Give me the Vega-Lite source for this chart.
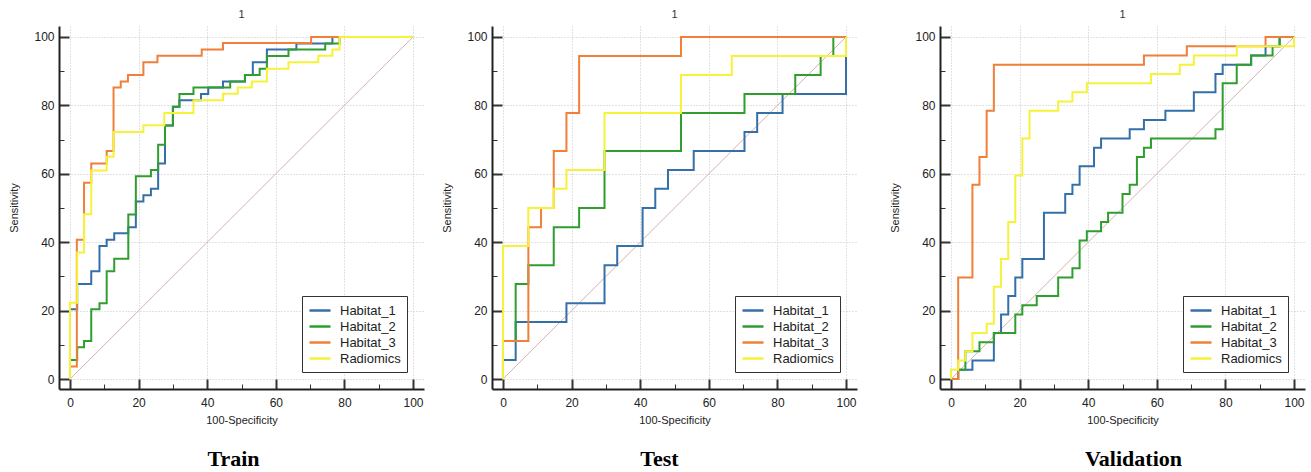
{
  "$schema": "https://vega.github.io/schema/vega-lite/v6.json",
  "background": "white",
  "padding": {"left": 8, "top": 9, "right": 1, "bottom": 2},
  "config": {
    "view": {"stroke": null},
    "font": "Liberation Sans",
    "title": {"font": "Liberation Sans", "fontSize": 11, "fontWeight": "normal", "color": "#333", "offset": 6},
    "axis": {
      "values": [0,5,10,15,20,25,30,35,40,45,50,55,60,65,70,75,80,85,90,95,100],
      "labelExpr": "datum.value % 20 === 0 ? datum.label : ''",
      "domainColor": "#222",
      "domainWidth": 2,
      "tickColor": "#333",
      "tickSize": {"condition": {"test": "datum.value % 20 === 0", "value": -10}, "value": -5},
      "tickWidth": {"condition": {"test": "datum.value % 20 === 0", "value": 2}, "value": 1},
      "grid": true,
      "gridColor": "#c4c4c4",
      "gridDash": [1, 2],
      "gridWidth": 1,
      "gridOpacity": {"condition": {"test": "datum.value % 20 === 0", "value": 1}, "value": 0},
      "labelFont": "Liberation Sans",
      "labelFontSize": 12,
      "labelColor": "#222",
      "labelPadding": 15,
      "titleFont": "Liberation Sans",
      "titleFontSize": 11,
      "titleFontWeight": "normal",
      "titleColor": "#222"
    },
    "axisY": {"titlePadding": 14},
    "axisX": {"titlePadding": 6, "labelPadding": 18},
    "legend": {
      "orient": "bottom-right",
      "offset": 17,
      "title": null,
      "symbolType": "M-1,0H2",
      "symbolSize": 196,
      "symbolStrokeWidth": 2.5,
      "labelFont": "Liberation Sans",
      "labelFontSize": 13,
      "labelColor": "#222",
      "labelOffset": 15,
      "strokeColor": "#333",
      "fillColor": "white",
      "padding": 6,
      "rowPadding": -4
    }
  },
  "datasets": {
    "diag": [{"x": 0, "y": 0, "x2": 100, "y2": 100}],
    "train": [
      {"m": "Habitat_1", "i": 0, "x": 0, "y": 0}, {"m": "Habitat_1", "i": 1, "x": 0, "y": 20.4}, {"m": "Habitat_1", "i": 2, "x": 2.1, "y": 27.8}, {"m": "Habitat_1", "i": 3, "x": 6.2, "y": 31.5}, {"m": "Habitat_1", "i": 4, "x": 8.6, "y": 38.9}, {"m": "Habitat_1", "i": 5, "x": 10.7, "y": 40.7}, {"m": "Habitat_1", "i": 6, "x": 12.9, "y": 42.6}, {"m": "Habitat_1", "i": 7, "x": 17, "y": 44.4}, {"m": "Habitat_1", "i": 8, "x": 19.2, "y": 51.9}, {"m": "Habitat_1", "i": 9, "x": 21.4, "y": 53.7}, {"m": "Habitat_1", "i": 10, "x": 23.6, "y": 55.6}, {"m": "Habitat_1", "i": 11, "x": 25.7, "y": 63}, {"m": "Habitat_1", "i": 12, "x": 27.7, "y": 74.1}, {"m": "Habitat_1", "i": 13, "x": 30, "y": 79.6}, {"m": "Habitat_1", "i": 14, "x": 31.9, "y": 81.5}, {"m": "Habitat_1", "i": 15, "x": 38.2, "y": 83.3}, {"m": "Habitat_1", "i": 16, "x": 40.3, "y": 85.2}, {"m": "Habitat_1", "i": 17, "x": 44.6, "y": 87}, {"m": "Habitat_1", "i": 18, "x": 51, "y": 88.9}, {"m": "Habitat_1", "i": 19, "x": 53.3, "y": 92.6}, {"m": "Habitat_1", "i": 20, "x": 57.4, "y": 96.3}, {"m": "Habitat_1", "i": 21, "x": 66, "y": 98.1}, {"m": "Habitat_1", "i": 22, "x": 76.5, "y": 100}, {"m": "Habitat_1", "i": 23, "x": 100, "y": 100},
      {"m": "Habitat_2", "i": 0, "x": 0, "y": 0}, {"m": "Habitat_2", "i": 1, "x": 0, "y": 5.6}, {"m": "Habitat_2", "i": 2, "x": 2.1, "y": 9.3}, {"m": "Habitat_2", "i": 3, "x": 4.1, "y": 11.1}, {"m": "Habitat_2", "i": 4, "x": 6.2, "y": 20.4}, {"m": "Habitat_2", "i": 5, "x": 8.6, "y": 22.2}, {"m": "Habitat_2", "i": 6, "x": 10.7, "y": 31.5}, {"m": "Habitat_2", "i": 7, "x": 12.9, "y": 35.2}, {"m": "Habitat_2", "i": 8, "x": 17, "y": 48.1}, {"m": "Habitat_2", "i": 9, "x": 19.2, "y": 59.3}, {"m": "Habitat_2", "i": 10, "x": 23.6, "y": 61.1}, {"m": "Habitat_2", "i": 11, "x": 25.7, "y": 68.5}, {"m": "Habitat_2", "i": 12, "x": 27.7, "y": 74.1}, {"m": "Habitat_2", "i": 13, "x": 30, "y": 79.6}, {"m": "Habitat_2", "i": 14, "x": 31.9, "y": 83.3}, {"m": "Habitat_2", "i": 15, "x": 36, "y": 85.2}, {"m": "Habitat_2", "i": 16, "x": 46.7, "y": 87}, {"m": "Habitat_2", "i": 17, "x": 51, "y": 88.9}, {"m": "Habitat_2", "i": 18, "x": 55.3, "y": 90.7}, {"m": "Habitat_2", "i": 19, "x": 57.4, "y": 94.4}, {"m": "Habitat_2", "i": 20, "x": 63.7, "y": 96.3}, {"m": "Habitat_2", "i": 21, "x": 74.4, "y": 98.1}, {"m": "Habitat_2", "i": 22, "x": 78.6, "y": 100}, {"m": "Habitat_2", "i": 23, "x": 100, "y": 100},
      {"m": "Habitat_3", "i": 0, "x": 0, "y": 0}, {"m": "Habitat_3", "i": 1, "x": 0, "y": 3.7}, {"m": "Habitat_3", "i": 2, "x": 2, "y": 40.7}, {"m": "Habitat_3", "i": 3, "x": 4.1, "y": 57.4}, {"m": "Habitat_3", "i": 4, "x": 6.2, "y": 63}, {"m": "Habitat_3", "i": 5, "x": 10.7, "y": 66.7}, {"m": "Habitat_3", "i": 6, "x": 12.7, "y": 85.2}, {"m": "Habitat_3", "i": 7, "x": 14.8, "y": 87}, {"m": "Habitat_3", "i": 8, "x": 16.9, "y": 88.9}, {"m": "Habitat_3", "i": 9, "x": 21.4, "y": 92.6}, {"m": "Habitat_3", "i": 10, "x": 25.5, "y": 94.5}, {"m": "Habitat_3", "i": 11, "x": 38.4, "y": 96.3}, {"m": "Habitat_3", "i": 12, "x": 44.6, "y": 98.2}, {"m": "Habitat_3", "i": 13, "x": 70.3, "y": 100}, {"m": "Habitat_3", "i": 14, "x": 100, "y": 100},
      {"m": "Radiomics", "i": 0, "x": 0, "y": 0}, {"m": "Radiomics", "i": 1, "x": 0, "y": 22.3}, {"m": "Radiomics", "i": 2, "x": 2.1, "y": 37}, {"m": "Radiomics", "i": 3, "x": 4.1, "y": 48.2}, {"m": "Radiomics", "i": 4, "x": 6.2, "y": 61}, {"m": "Radiomics", "i": 5, "x": 10.7, "y": 65}, {"m": "Radiomics", "i": 6, "x": 12.7, "y": 72.2}, {"m": "Radiomics", "i": 7, "x": 21.4, "y": 74.2}, {"m": "Radiomics", "i": 8, "x": 27.5, "y": 77.8}, {"m": "Radiomics", "i": 9, "x": 36, "y": 81.5}, {"m": "Radiomics", "i": 10, "x": 44.6, "y": 83.4}, {"m": "Radiomics", "i": 11, "x": 48.9, "y": 85.2}, {"m": "Radiomics", "i": 12, "x": 53, "y": 87}, {"m": "Radiomics", "i": 13, "x": 57.4, "y": 90.7}, {"m": "Radiomics", "i": 14, "x": 63.7, "y": 92.6}, {"m": "Radiomics", "i": 15, "x": 72.4, "y": 94.5}, {"m": "Radiomics", "i": 16, "x": 76.5, "y": 96.3}, {"m": "Radiomics", "i": 17, "x": 78.6, "y": 100}, {"m": "Radiomics", "i": 18, "x": 100, "y": 100}
    ],
    "test": [
      {"m": "Habitat_1", "i": 0, "x": 0, "y": 0}, {"m": "Habitat_1", "i": 1, "x": 0, "y": 5.6}, {"m": "Habitat_1", "i": 2, "x": 3.7, "y": 16.7}, {"m": "Habitat_1", "i": 3, "x": 18.5, "y": 22.2}, {"m": "Habitat_1", "i": 4, "x": 29.6, "y": 33.3}, {"m": "Habitat_1", "i": 5, "x": 33.3, "y": 38.9}, {"m": "Habitat_1", "i": 6, "x": 40.7, "y": 50}, {"m": "Habitat_1", "i": 7, "x": 44.4, "y": 55.6}, {"m": "Habitat_1", "i": 8, "x": 48.1, "y": 61.1}, {"m": "Habitat_1", "i": 9, "x": 55.6, "y": 66.7}, {"m": "Habitat_1", "i": 10, "x": 70.4, "y": 72.2}, {"m": "Habitat_1", "i": 11, "x": 74.1, "y": 77.8}, {"m": "Habitat_1", "i": 12, "x": 81.5, "y": 83.3}, {"m": "Habitat_1", "i": 13, "x": 100, "y": 94.4}, {"m": "Habitat_1", "i": 14, "x": 100, "y": 100},
      {"m": "Habitat_2", "i": 0, "x": 0, "y": 0}, {"m": "Habitat_2", "i": 1, "x": 0, "y": 11.1}, {"m": "Habitat_2", "i": 2, "x": 3.7, "y": 27.8}, {"m": "Habitat_2", "i": 3, "x": 7.4, "y": 33.3}, {"m": "Habitat_2", "i": 4, "x": 14.8, "y": 44.4}, {"m": "Habitat_2", "i": 5, "x": 22.2, "y": 50}, {"m": "Habitat_2", "i": 6, "x": 29.6, "y": 66.7}, {"m": "Habitat_2", "i": 7, "x": 51.9, "y": 77.8}, {"m": "Habitat_2", "i": 8, "x": 70.4, "y": 83.3}, {"m": "Habitat_2", "i": 9, "x": 85.2, "y": 88.9}, {"m": "Habitat_2", "i": 10, "x": 92.6, "y": 94.4}, {"m": "Habitat_2", "i": 11, "x": 96.3, "y": 100}, {"m": "Habitat_2", "i": 12, "x": 100, "y": 100},
      {"m": "Habitat_3", "i": 0, "x": 0, "y": 0}, {"m": "Habitat_3", "i": 1, "x": 0, "y": 11.1}, {"m": "Habitat_3", "i": 2, "x": 7.4, "y": 44.4}, {"m": "Habitat_3", "i": 3, "x": 11.1, "y": 50}, {"m": "Habitat_3", "i": 4, "x": 14.8, "y": 66.7}, {"m": "Habitat_3", "i": 5, "x": 18.5, "y": 77.8}, {"m": "Habitat_3", "i": 6, "x": 22.2, "y": 94.4}, {"m": "Habitat_3", "i": 7, "x": 51.9, "y": 100}, {"m": "Habitat_3", "i": 8, "x": 100, "y": 100},
      {"m": "Radiomics", "i": 0, "x": 0, "y": 0}, {"m": "Radiomics", "i": 1, "x": 0, "y": 38.9}, {"m": "Radiomics", "i": 2, "x": 7.4, "y": 50}, {"m": "Radiomics", "i": 3, "x": 14.8, "y": 55.6}, {"m": "Radiomics", "i": 4, "x": 18.5, "y": 61.1}, {"m": "Radiomics", "i": 5, "x": 29.6, "y": 77.8}, {"m": "Radiomics", "i": 6, "x": 51.9, "y": 88.9}, {"m": "Radiomics", "i": 7, "x": 66.7, "y": 94.4}, {"m": "Radiomics", "i": 8, "x": 100, "y": 100}
    ],
    "val": [
      {"m": "Habitat_1", "i": 0, "x": 0, "y": 0}, {"m": "Habitat_1", "i": 1, "x": 2.1, "y": 2.7}, {"m": "Habitat_1", "i": 2, "x": 6.25, "y": 5.4}, {"m": "Habitat_1", "i": 3, "x": 12.5, "y": 13.5}, {"m": "Habitat_1", "i": 4, "x": 14.6, "y": 18.9}, {"m": "Habitat_1", "i": 5, "x": 16.7, "y": 24.3}, {"m": "Habitat_1", "i": 6, "x": 18.75, "y": 29.7}, {"m": "Habitat_1", "i": 7, "x": 20.8, "y": 35.1}, {"m": "Habitat_1", "i": 8, "x": 27.1, "y": 48.6}, {"m": "Habitat_1", "i": 9, "x": 33.3, "y": 54.1}, {"m": "Habitat_1", "i": 10, "x": 35.4, "y": 56.8}, {"m": "Habitat_1", "i": 11, "x": 37.5, "y": 62.2}, {"m": "Habitat_1", "i": 12, "x": 41.7, "y": 67.6}, {"m": "Habitat_1", "i": 13, "x": 43.75, "y": 70.3}, {"m": "Habitat_1", "i": 14, "x": 52.1, "y": 73}, {"m": "Habitat_1", "i": 15, "x": 56.25, "y": 75.7}, {"m": "Habitat_1", "i": 16, "x": 62.5, "y": 78.4}, {"m": "Habitat_1", "i": 17, "x": 70.8, "y": 83.8}, {"m": "Habitat_1", "i": 18, "x": 77.1, "y": 89.2}, {"m": "Habitat_1", "i": 19, "x": 79.2, "y": 91.9}, {"m": "Habitat_1", "i": 20, "x": 87.5, "y": 94.6}, {"m": "Habitat_1", "i": 21, "x": 91.7, "y": 97.3}, {"m": "Habitat_1", "i": 22, "x": 95.8, "y": 100}, {"m": "Habitat_1", "i": 23, "x": 100, "y": 100},
      {"m": "Habitat_2", "i": 0, "x": 0, "y": 0}, {"m": "Habitat_2", "i": 1, "x": 2.1, "y": 2.7}, {"m": "Habitat_2", "i": 2, "x": 4.2, "y": 8.1}, {"m": "Habitat_2", "i": 3, "x": 8.3, "y": 10.8}, {"m": "Habitat_2", "i": 4, "x": 12.5, "y": 13.5}, {"m": "Habitat_2", "i": 5, "x": 18.75, "y": 18.9}, {"m": "Habitat_2", "i": 6, "x": 20.8, "y": 21.6}, {"m": "Habitat_2", "i": 7, "x": 25, "y": 24.3}, {"m": "Habitat_2", "i": 8, "x": 31.25, "y": 29.7}, {"m": "Habitat_2", "i": 9, "x": 35.4, "y": 32.4}, {"m": "Habitat_2", "i": 10, "x": 37.5, "y": 40.5}, {"m": "Habitat_2", "i": 11, "x": 39.6, "y": 43.2}, {"m": "Habitat_2", "i": 12, "x": 43.75, "y": 45.9}, {"m": "Habitat_2", "i": 13, "x": 45.8, "y": 48.6}, {"m": "Habitat_2", "i": 14, "x": 50, "y": 54.1}, {"m": "Habitat_2", "i": 15, "x": 52.1, "y": 56.8}, {"m": "Habitat_2", "i": 16, "x": 54.2, "y": 64.9}, {"m": "Habitat_2", "i": 17, "x": 56.25, "y": 67.6}, {"m": "Habitat_2", "i": 18, "x": 58.3, "y": 70.3}, {"m": "Habitat_2", "i": 19, "x": 77.1, "y": 73}, {"m": "Habitat_2", "i": 20, "x": 79.2, "y": 86.5}, {"m": "Habitat_2", "i": 21, "x": 83.3, "y": 91.9}, {"m": "Habitat_2", "i": 22, "x": 87.5, "y": 94.6}, {"m": "Habitat_2", "i": 23, "x": 93.75, "y": 97.3}, {"m": "Habitat_2", "i": 24, "x": 95.8, "y": 100}, {"m": "Habitat_2", "i": 25, "x": 100, "y": 100},
      {"m": "Habitat_3", "i": 0, "x": 0, "y": 0}, {"m": "Habitat_3", "i": 1, "x": 2.1, "y": 29.7}, {"m": "Habitat_3", "i": 2, "x": 6.25, "y": 56.8}, {"m": "Habitat_3", "i": 3, "x": 8.3, "y": 64.9}, {"m": "Habitat_3", "i": 4, "x": 10.4, "y": 78.4}, {"m": "Habitat_3", "i": 5, "x": 12.5, "y": 91.9}, {"m": "Habitat_3", "i": 6, "x": 56.25, "y": 94.6}, {"m": "Habitat_3", "i": 7, "x": 68.75, "y": 97.3}, {"m": "Habitat_3", "i": 8, "x": 91.7, "y": 100}, {"m": "Habitat_3", "i": 9, "x": 100, "y": 100},
      {"m": "Radiomics", "i": 0, "x": 0, "y": 0}, {"m": "Radiomics", "i": 1, "x": 0, "y": 2.7}, {"m": "Radiomics", "i": 2, "x": 2.1, "y": 5.4}, {"m": "Radiomics", "i": 3, "x": 4.2, "y": 8.1}, {"m": "Radiomics", "i": 4, "x": 6.25, "y": 13.5}, {"m": "Radiomics", "i": 5, "x": 10.4, "y": 16.2}, {"m": "Radiomics", "i": 6, "x": 12.5, "y": 27}, {"m": "Radiomics", "i": 7, "x": 14.6, "y": 35.1}, {"m": "Radiomics", "i": 8, "x": 16.7, "y": 45.9}, {"m": "Radiomics", "i": 9, "x": 18.75, "y": 59.5}, {"m": "Radiomics", "i": 10, "x": 20.8, "y": 70.3}, {"m": "Radiomics", "i": 11, "x": 22.9, "y": 78.4}, {"m": "Radiomics", "i": 12, "x": 31.25, "y": 81.1}, {"m": "Radiomics", "i": 13, "x": 35.4, "y": 83.8}, {"m": "Radiomics", "i": 14, "x": 39.6, "y": 86.5}, {"m": "Radiomics", "i": 15, "x": 58.3, "y": 89.2}, {"m": "Radiomics", "i": 16, "x": 66.7, "y": 91.9}, {"m": "Radiomics", "i": 17, "x": 70.8, "y": 94.6}, {"m": "Radiomics", "i": 18, "x": 83.3, "y": 97.3}, {"m": "Radiomics", "i": 19, "x": 100, "y": 100}
    ]
  },
  "hconcat": [
    {
      "hconcat": [
        {
          "title": {"text": "Train", "orient": "bottom", "anchor": "middle", "font": "Liberation Serif", "fontSize": 22, "fontWeight": "bold", "color": "#000", "offset": 24, "dx": 17},
          "resolve": {"scale": {"color": "independent"}, "legend": {"color": "independent"}},
          "vconcat": [
            {
              "width": 365, "height": 363,
              "title": {"text": "1"},
              "layer": [
                {"data": {"name": "diag"}, "mark": {"type": "rule", "color": "#d8b0b0", "strokeWidth": 1},
                 "encoding": {"x": {"field": "x", "type": "quantitative", "scale": {"domain": [-3.2, 103.2], "nice": false, "zero": false}, "axis": {"title": "100-Specificity"}}, "y": {"field": "y", "type": "quantitative", "scale": {"domain": [-2.9, 103.2], "nice": false, "zero": false}, "axis": {"title": "Sensitivity"}}, "x2": {"field": "x2"}, "y2": {"field": "y2"}}},
                {"data": {"name": "train"}, "mark": {"type": "line", "strokeWidth": 2, "interpolate": "step-after"},
                 "encoding": {"x": {"field": "x", "type": "quantitative"}, "y": {"field": "y", "type": "quantitative"}, "order": {"field": "i"},
                   "color": {"field": "m", "type": "nominal", "legend": {"labelExpr": "datum.label + '\u00a0\u00a0'"}, "scale": {"domain": ["Habitat_1", "Habitat_2", "Habitat_3", "Radiomics"], "range": ["#356fa8", "#2f9e2f", "#f07f3a", "#f6f23a"]}}}}
              ]
            }
          ]
        },
        {
          "title": {"text": "Test", "orient": "bottom", "anchor": "middle", "font": "Liberation Serif", "fontSize": 22, "fontWeight": "bold", "color": "#000", "offset": 24, "dx": 10},
          "resolve": {"scale": {"color": "independent"}, "legend": {"color": "independent"}},
          "vconcat": [
            {
              "width": 365, "height": 363,
              "title": {"text": "1"},
              "layer": [
                {"data": {"name": "diag"}, "mark": {"type": "rule", "color": "#d8b0b0", "strokeWidth": 1},
                 "encoding": {"x": {"field": "x", "type": "quantitative", "scale": {"domain": [-3.2, 103.2], "nice": false, "zero": false}, "axis": {"title": "100-Specificity"}}, "y": {"field": "y", "type": "quantitative", "scale": {"domain": [-2.9, 103.2], "nice": false, "zero": false}, "axis": {"title": "Sensitivity"}}, "x2": {"field": "x2"}, "y2": {"field": "y2"}}},
                {"data": {"name": "test"}, "mark": {"type": "line", "strokeWidth": 2, "interpolate": "step-after"},
                 "encoding": {"x": {"field": "x", "type": "quantitative"}, "y": {"field": "y", "type": "quantitative"}, "order": {"field": "i"},
                   "color": {"field": "m", "type": "nominal", "legend": {"labelExpr": "datum.label + '\u00a0\u00a0'"}, "scale": {"domain": ["Habitat_1", "Habitat_2", "Habitat_3", "Radiomics"], "range": ["#356fa8", "#2f9e2f", "#f07f3a", "#f6f23a"]}}}}
              ]
            }
          ]
        }
      ],
      "spacing": 17,
      "resolve": {"scale": {"color": "independent"}, "legend": {"color": "independent"}}
    },
    {
      "title": {"text": "Validation", "orient": "bottom", "anchor": "middle", "font": "Liberation Serif", "fontSize": 22, "fontWeight": "bold", "color": "#000", "offset": 24, "dx": 36},
      "resolve": {"scale": {"color": "independent"}, "legend": {"color": "independent"}},
      "vconcat": [
        {
          "width": 365, "height": 363,
          "title": {"text": "1"},
          "layer": [
            {"data": {"name": "diag"}, "mark": {"type": "rule", "color": "#d8b0b0", "strokeWidth": 1},
             "encoding": {"x": {"field": "x", "type": "quantitative", "scale": {"domain": [-3.2, 103.2], "nice": false, "zero": false}, "axis": {"title": "100-Specificity"}}, "y": {"field": "y", "type": "quantitative", "scale": {"domain": [-2.9, 103.2], "nice": false, "zero": false}, "axis": {"title": "Sensitivity"}}, "x2": {"field": "x2"}, "y2": {"field": "y2"}}},
            {"data": {"name": "val"}, "mark": {"type": "line", "strokeWidth": 2, "interpolate": "step-after"},
             "encoding": {"x": {"field": "x", "type": "quantitative"}, "y": {"field": "y", "type": "quantitative"}, "order": {"field": "i"},
               "color": {"field": "m", "type": "nominal", "legend": {"labelExpr": "datum.label + '\u00a0\u00a0'"}, "scale": {"domain": ["Habitat_1", "Habitat_2", "Habitat_3", "Radiomics"], "range": ["#356fa8", "#2f9e2f", "#f07f3a", "#f6f23a"]}}}}
          ]
        }
      ]
    }
  ],
  "spacing": 32,
  "resolve": {"scale": {"color": "independent"}, "legend": {"color": "independent"}}
}
